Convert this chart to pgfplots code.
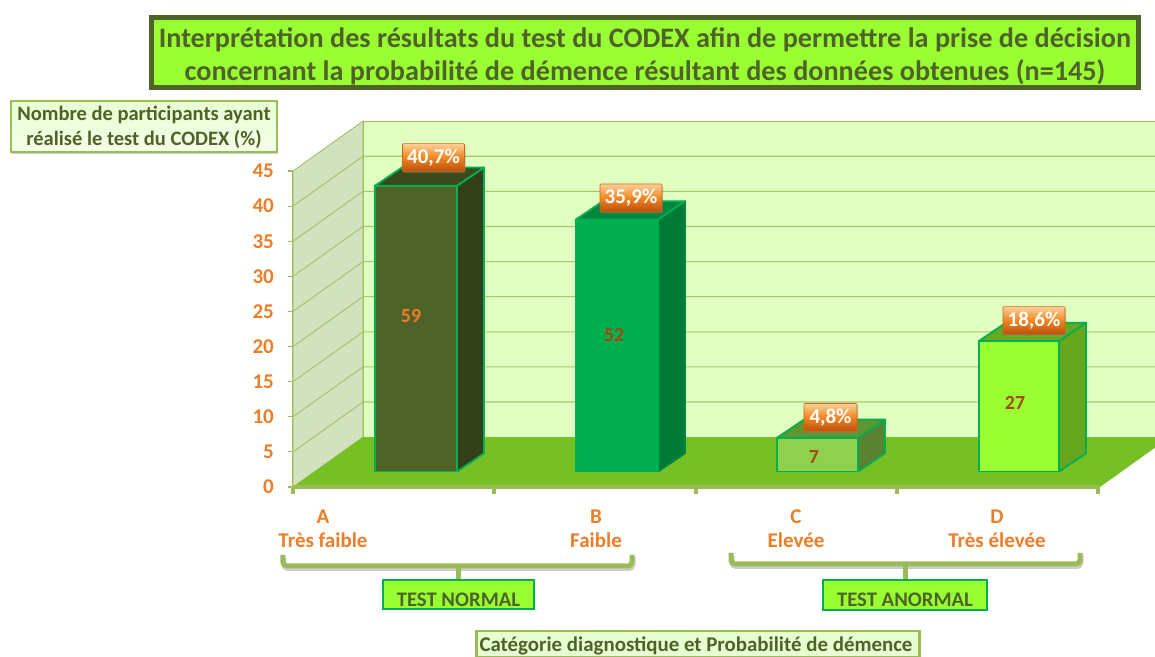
\documentclass[border=0pt]{standalone}
\usepackage{fontspec}
\setmainfont{Carlito}
\usepackage{pgfplots}
\pgfplotsset{compat=1.18}
\usetikzlibrary{shadows}
\definecolor{olv}{HTML}{4F6228}
\definecolor{lim}{HTML}{99FF33}
\definecolor{grn}{HTML}{00B050}
\definecolor{lin}{HTML}{9BBB59}
\definecolor{org}{HTML}{ED7D26}
\definecolor{brn}{HTML}{A5480F}
\definecolor{wallB}{HTML}{E1FFC1}
\definecolor{wallL}{HTML}{D3E2BE}
\definecolor{flr}{HTML}{76C026}
\definecolor{ptop}{HTML}{FFD09A}
\definecolor{pbot}{HTML}{B84F0E}
\definecolor{pmid}{HTML}{F0851F}
\definecolor{pbrd}{HTML}{C96A18}
\definecolor{Aside}{HTML}{333F19}
\definecolor{Atop}{HTML}{3A4A1C}
\definecolor{Bside}{HTML}{007A37}
\definecolor{Btop}{HTML}{00863D}
\definecolor{Cside}{HTML}{5A8232}
\definecolor{Ctop}{HTML}{5F9632}
\definecolor{Cfront}{HTML}{8FD14F}
\definecolor{Dside}{HTML}{66A61F}
\definecolor{Dtop}{HTML}{66AA22}
\definecolor{boxl}{HTML}{E8FFD2}
\definecolor{boxm}{HTML}{F4FFE8}
\newcommand{\fs}[2]{\fontsize{#1bp}{#2bp}\selectfont\bfseries}
\tikzset{
  pct/.style={minimum width=62bp,minimum height=28bp,inner sep=0pt,rounded corners=1bp,
    top color=ptop,bottom color=pbot,middle color=pmid,draw=pbrd,line width=.6bp,text=white,
    drop shadow={shadow xshift=1bp,shadow yshift=-1.5bp,opacity=.4},font=\fs{21}{24}},
  val/.style={font=\fs{20}{22},inner sep=0pt},
  face/.style={draw=grn,line width=1.8bp,line join=round}
}
\begin{document}
\begin{tikzpicture}
\begin{axis}[
  scale only axis, width=807bp, height=316bp,
  xmin=293, xmax=1100, ymin=0, ymax=45,
  clip=false,
  axis x line*=bottom, axis y line*=left,
  axis line style={draw=lin,line width=1.2bp,-},
  ytick={0,5,...,45},
  xtick={323,596,796,997},
  xticklabels={{A\\Très faible},{B\\Faible},{C\\Elevée},{D\\Très élevée}},
  extra x ticks={293,494,696,897,1098},
  extra x tick labels={},
  major x tick style={draw=none},
  extra x tick style={major tick length=7bp,major x tick style={draw=lin,line width=3.5bp}},
  major y tick style={draw=lin,line width=1.2bp},
  major tick length=5bp,
  tick align=outside,
  /pgf/number format/assume math mode=true,
  yticklabel style={font=\fs{21}{22},text=org,inner sep=0pt,xshift=-14bp},
  xticklabel style={font=\fs{21}{24},text=org,align=center,inner sep=0pt,yshift=-18bp},
  every axis plot/.append style={mark=none,forget plot},
]
% walls and floor
\addplot[fill=wallB,draw=lin,line width=.8bp] coordinates {(363,7.1)(1155,7.1)(1155,52.1)(363,52.1)} -- cycle;
\addplot[fill=wallL,draw=lin,line width=.8bp] coordinates {(293,0)(363,7.1)(363,52.1)(293,45)} -- cycle;
\addplot[fill=flr,draw=none] coordinates {(293,0)(1100,0)(1155,5.6)(1155,7.1)(363,7.1)} -- cycle;
% grid
\addplot[draw=lin!85!white,line width=1.1bp] coordinates {(293,5)(363,12.1)(1155,12.1)};
\addplot[draw=lin!85!white,line width=1.1bp] coordinates {(293,10)(363,17.1)(1155,17.1)};
\addplot[draw=lin!85!white,line width=1.1bp] coordinates {(293,15)(363,22.1)(1155,22.1)};
\addplot[draw=lin!85!white,line width=1.1bp] coordinates {(293,20)(363,27.1)(1155,27.1)};
\addplot[draw=lin!85!white,line width=1.1bp] coordinates {(293,25)(363,32.1)(1155,32.1)};
\addplot[draw=lin!85!white,line width=1.1bp] coordinates {(293,30)(363,37.1)(1155,37.1)};
\addplot[draw=lin!85!white,line width=1.1bp] coordinates {(293,35)(363,42.1)(1155,42.1)};
\addplot[draw=lin!85!white,line width=1.1bp] coordinates {(293,40)(363,47.1)(1155,47.1)};
\addplot[draw=lin,line width=3.2bp] coordinates {(293,0)(1100,0)};
% A
\addplot[face,fill=Aside] coordinates {(457,2.2)(484,4.8)(484,45.5)(457,42.9)} -- cycle;
\addplot[face,fill=Atop] coordinates {(375,42.9)(402,45.5)(484,45.5)(457,42.9)} -- cycle;
\addplot[ybar,bar shift=0pt,bar width=82bp,yshift=15.5bp,fill=olv,draw=grn,line width=1.8bp] coordinates {(416,40.7)};
% B
\addplot[face,fill=Bside,draw=Btop] coordinates {(658,2.2)(685,4.8)(685,40.7)(658,38.1)} -- cycle;
\addplot[face,fill=Btop] coordinates {(576,38.1)(603,40.7)(685,40.7)(658,38.1)} -- cycle;
\addplot[ybar,bar shift=0pt,bar width=82bp,yshift=15.5bp,fill=grn,draw=grn,line width=1.8bp] coordinates {(617,35.9)};
% C
\addplot[face,fill=Cside] coordinates {(858,2.2)(885,4.8)(885,9.6)(858,7.0)} -- cycle;
\addplot[face,fill=Ctop] coordinates {(777,7.0)(804,9.6)(885,9.6)(858,7.0)} -- cycle;
\addplot[ybar,bar shift=0pt,bar width=81bp,yshift=15.5bp,fill=Cfront,draw=grn,line width=1.8bp] coordinates {(817.5,4.8)};
% D
\addplot[face,fill=Dside] coordinates {(1059,2.2)(1086,4.8)(1086,23.4)(1059,20.8)} -- cycle;
\addplot[face,fill=Dtop] coordinates {(979,20.8)(1006,23.4)(1086,23.4)(1059,20.8)} -- cycle;
\addplot[ybar,bar shift=0pt,bar width=80bp,yshift=15.5bp,fill=lim,draw=grn,line width=1.8bp] coordinates {(1019,18.6)};
% labels
\node[val,text=org] at (axis cs:411,24.4) {59};
\node[val,text=brn] at (axis cs:614,21.7) {52};
\node[val,text=brn] at (axis cs:814,4.2) {7};
\node[val,text=brn] at (axis cs:1015,12) {27};
\node[pct] at (axis cs:433.5,46.9) {40,7\%};
\node[pct] at (axis cs:631,41.15) {35,9\%};
\node[pct,minimum width=53bp] at (axis cs:830.5,9.9) {4,8\%};
\node[pct] at (axis cs:1034,23.7) {18,6\%};
\end{axis}
\pgfresetboundingbox
\begin{scope}[x=1bp,y=-1bp,xshift=-293bp,yshift=487bp]
\path[use as bounding box] (0,0) rectangle (1155,657);
% title
\node[draw=olv,fill=lim,line width=5bp,minimum width=987bp,minimum height=70bp,inner sep=0pt,
  drop shadow={shadow xshift=1bp,shadow yshift=-2bp,opacity=.4}] at (645,53) {};
\node[align=center,text=olv,inner sep=0pt,font=\fs{28.2}{33}] at (645,56)
  {Interprétation des résultats du test du CODEX afin de permettre la prise de décision\\concernant la probabilité de démence résultant des données obtenues (n=145)};
% y title
\node[draw=lin,top color=boxl,bottom color=boxm,line width=2.5bp,minimum width=266bp,minimum height=51bp,inner sep=0pt,
  drop shadow={shadow xshift=1bp,shadow yshift=-2bp,opacity=.4}] at (144,126.5) {};
\node[align=center,text=olv,inner sep=0pt,font=\fs{20.5}{25}] at (144,127)
  {Nombre de participants ayant\\réalisé le test du CODEX (\%)};
% brackets
\draw[black,opacity=.2,line width=5bp,rounded corners=4bp] (284,557.5)--(284,568.5)--(633,568.5)--(633,557.5);
\draw[black,opacity=.2,line width=5bp,rounded corners=4bp] (732,555.5)--(732,566.5)--(1081,566.5)--(1081,555.5);
\draw[lin,line width=5bp,rounded corners=4bp] (283,555)--(283,566)--(632,566)--(632,555);
\draw[lin,line width=5bp] (458,566)--(458,580);
\draw[lin,line width=5bp,rounded corners=4bp] (731,553)--(731,564)--(1080,564)--(1080,553);
\draw[lin,line width=5bp] (905,564)--(905,579);
% group boxes
\node[draw=grn,fill=lim,line width=2.4bp,minimum width=151bp,minimum height=29bp,inner sep=0pt] at (458.5,594.5) {};
\node[text=olv,inner sep=0pt,font=\fs{20.7}{22}] at (458.5,599.5) {TEST NORMAL};
\node[draw=grn,fill=lim,line width=2.4bp,minimum width=164bp,minimum height=30bp,inner sep=0pt] at (905,595) {};
\node[text=olv,inner sep=0pt,font=\fs{20.7}{22}] at (905,599.5) {TEST ANORMAL};
% x title
\node[draw=lin,fill=boxl,line width=2.4bp,minimum width=443bp,minimum height=26bp,inner sep=0pt] at (698,644) {};
\node[text=olv,inner sep=0pt,font=\fs{20.9}{24}] at (696,645.5) {Catégorie diagnostique et Probabilité de démence};
\end{scope}
\end{tikzpicture}
\end{document}
